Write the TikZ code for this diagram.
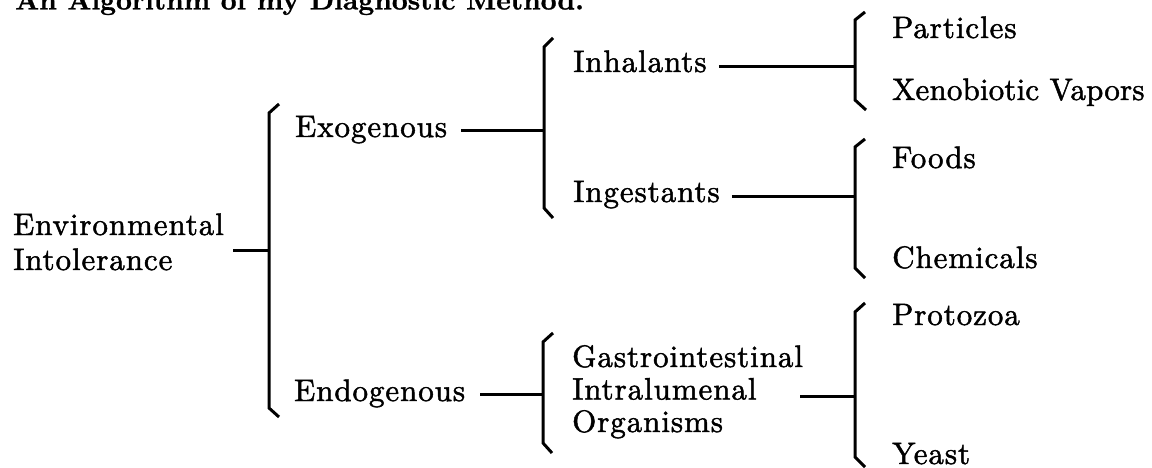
\documentclass[tikz,border=0pt]{standalone}
\usepackage{fontspec}
\setmainfont{lmroman10-regular.otf}[LetterSpace=3, FakeBold=1.5]
\newfontfamily\titlefont{lmroman10-bold.otf}[FakeBold=1]
\begin{document}
\begin{tikzpicture}[x=1pt,y=-1pt,
  lbl/.style={inner sep=0pt, anchor=base west, font=\fontsize{31}{35}\selectfont},
  lblgi/.style={inner sep=0pt, anchor=base west, font=\fontsize{31}{32.5}\selectfont},
  brk/.style={line width=3pt, line join=miter},
  link/.style={line width=3pt}]
\useasboundingbox (0,0) rectangle (1152,468);

% title (cut off at the top)
\node[inner sep=0pt, anchor=base west, font=\titlefont\fontsize{27.6}{30}\selectfont] (title) at (15,9.5) {An Algorithm of my Diagnostic Method.};

% text nodes
\node[lbl] (env) at (13,235) {\begin{tabular}[t]{@{}l@{}}Environmental\\Intolerance\end{tabular}};
\node[lbl] (exo) at (295,137) {Exogenous};
\node[lbl] (endo) at (294,401) {Endogenous};
\node[lbl] (inh) at (573,72) {Inhalants};
\node[lbl] (ing) at (573,202) {Ingestants};
\node[lblgi] (gi) at (572,367) {\begin{tabular}[t]{@{}l@{}}Gastrointestinal\\Intralumenal\\Organisms\end{tabular}};
\node[lbl] (part) at (892,38) {Particles};
\node[lbl] (xeno) at (892,100) {\addfontfeature{LetterSpace=0.5}Xenobiotic Vapors};
\node[lbl] (food) at (892,168) {Foods};
\node[lbl] (chem) at (892,268) {Chemicals};
\node[lbl] (prot) at (892,325) {Protozoa};
\node[lbl] (yeast) at (892,464) {Yeast};

% brackets
\draw[brk] (279,104) -- (269,113) -- (269,408) -- (279,417);
\draw[brk] (553,38) -- (544,47) -- (544,208) -- (553,218);
\draw[brk] (865,12) -- (855,20) -- (855,100) -- (866,110);
\draw[brk] (865,139) -- (855,147) -- (855,268) -- (865,278);
\draw[brk] (553,333) -- (543,342) -- (543,443) -- (552,453);
\draw[brk] (865,303) -- (855,312) -- (855,457) -- (865,467);

% bracket junctions
\coordinate (bA) at (269,250);
\coordinate (bB) at (544,131);
\coordinate (bC) at (855,67);
\coordinate (bD) at (855,197);
\coordinate (bE) at (543,394);
\coordinate (bF) at (855,396);

% link start points
\coordinate (envR) at ([xshift=9pt]env.east);
\coordinate (exoR) at ([xshift=14pt]exo.mid east);
\coordinate (endoR) at ([xshift=15pt]endo.mid east);
\coordinate (inhR) at ([xshift=12pt]inh.mid east);
\coordinate (ingR) at ([xshift=12pt]ing.mid east);
\coordinate (giR) at ([xshift=228pt]gi.west);

% connectors
\draw[link] (envR |- bA) -- (bA);
\draw[link] (exoR |- bB) -- (bB);
\draw[link] (endoR |- bE) -- (bE);
\draw[link] (inhR |- bC) -- (bC);
\draw[link] (ingR |- bD) -- (bD);
\draw[link] (giR |- bF) -- (bF);
\end{tikzpicture}
\end{document}
